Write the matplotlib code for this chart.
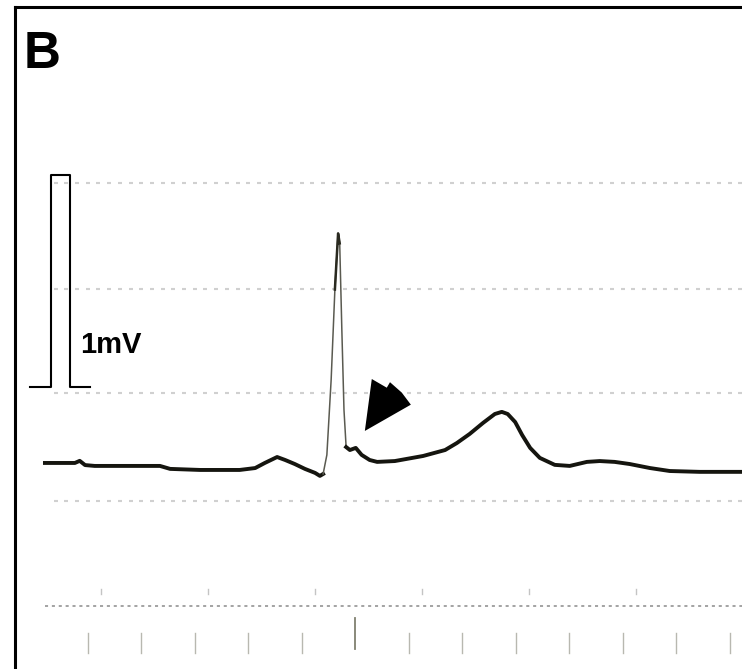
import numpy as np
import matplotlib.pyplot as plt
from matplotlib.patches import Polygon

# ECG trace: time (ms) and voltage (mV)
t_ms = [0, 28, 56, 65, 75, 93, 159, 215, 234, 290, 364, 393, 411, 434, 449,
        467, 486, 505, 514, 520, 527, 535, 542, 548, 551, 555, 559, 563, 570,
        581, 592, 607, 621, 654, 707, 748, 770, 794, 819, 841, 854, 865, 879,
        892, 907, 925, 953, 981, 1013, 1037, 1065, 1093, 1131, 1168, 1224, 1303]
v_mv = [0.00, 0.00, 0.00, 0.01, -0.01, -0.014, -0.014, -0.014, -0.028, -0.033,
        -0.033, -0.024, 0.000, 0.028, 0.014, -0.005, -0.028, -0.047, -0.061,
        -0.052, 0.038, 0.392, 0.818, 1.083, 1.036, 0.627, 0.250, 0.075, 0.061,
        0.071, 0.038, 0.014, 0.005, 0.009, 0.033, 0.061, 0.094, 0.137, 0.189,
        0.231, 0.241, 0.231, 0.193, 0.132, 0.071, 0.024, -0.009, -0.014, 0.005,
        0.009, 0.005, -0.005, -0.024, -0.038, -0.042, -0.042]

# QRS part is drawn thin (index range in the trace)
qrs_start, qrs_end = 19, 28

# 1 mV calibration pulse
cal_t = [-28, 11, 11, 47, 47, 84]
cal_v = [0.36, 0.36, 1.36, 1.36, 0.36, 0.36]

# paper grid
grid_rows_mv = [1.32, 0.82, 0.33, -0.18]
grid_dot_ms = np.arange(0, 1310, 20)
base_line_mv = -0.675
tick_ms = np.arange(80, 1290, 100)
tall_tick_ms = 580
small_mark_ms = np.arange(105, 1300, 200)

# arrowhead outline (ms, mV)
arrow_t = [598, 611, 639, 645, 667, 684]
arrow_v = [0.151, 0.396, 0.355, 0.381, 0.332, 0.275]

fig = plt.figure(figsize=(7.42, 6.69), dpi=100)
ax = fig.add_axes([0, 0, 1, 1])
ax.set_xlim(-84, 1303)
ax.set_ylim(-0.972, 2.184)
ax.axis("off")

# faint paper dots
for r in grid_rows_mv:
    ax.plot(grid_dot_ms[1:], [r] * len(grid_dot_ms[1:]), ls="none", marker="_",
            ms=2.5, mew=1.5, color="#d0d0d0", zorder=1)
ax.plot([0, 1303], [base_line_mv, base_line_mv], color="#8a8a8a", lw=1.1,
        ls=(0, (2, 2.5)))
for x in small_mark_ms:
    ax.plot([x, x], [-0.62, -0.595], color="#c4c4c4", lw=1)
for x in tick_ms:
    if x == tall_tick_ms:
        ax.plot([x, x], [-0.73, -0.88], color="#808070", lw=1.3)
    else:
        ax.plot([x, x], [-0.80, -0.895], color="#b8b8b0", lw=1)

# ECG trace
ax.plot(t_ms[:qrs_start + 1], v_mv[:qrs_start + 1], color="#15150f", lw=2.8,
        solid_joinstyle="round", zorder=3)
ax.plot(t_ms[qrs_start:qrs_end + 1], v_mv[qrs_start:qrs_end + 1],
        color="#5a5a50", lw=1.1, zorder=3)
ax.plot(t_ms[22:25], v_mv[22:25], color="#2a2a20", lw=1.8, zorder=3)
ax.plot(t_ms[qrs_end - 1:], v_mv[qrs_end - 1:], color="#15150f", lw=2.8,
        solid_joinstyle="round", zorder=3)

# calibration pulse and label
ax.plot(cal_t, cal_v, color="black", lw=1.5, zorder=3)
ax.text(65, 0.519, "1mV", fontsize=21, fontweight="bold",
        family="Liberation Sans", va="baseline", ha="left")

# arrowhead
ax.add_patch(Polygon(np.column_stack([arrow_t, arrow_v]), closed=True,
                     color="black", lw=0, zorder=5))

# panel frame (left and top edges only)
fr = fig.add_axes([15 / 742, 0, 1 - 15 / 742, 1 - 7 / 669])
fr.patch.set_alpha(0)
fr.set_xticks([])
fr.set_yticks([])
for side in ["right", "bottom"]:
    fr.spines[side].set_visible(False)
for side in ["left", "top"]:
    fr.spines[side].set_linewidth(2.2)

fig.text(24 / 742, 1 - 68 / 669, "B", fontsize=37, fontweight="bold",
         family="Liberation Sans", va="baseline", ha="left")

fig.savefig("out.png", dpi=100)
